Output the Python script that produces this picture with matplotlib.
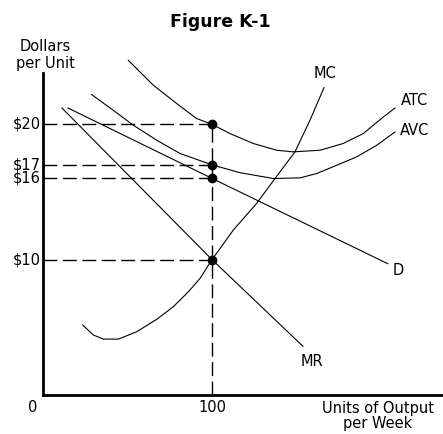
import matplotlib
matplotlib.use('Agg')
from matplotlib import pyplot as plt

# cost and revenue curves (units of output, dollars per unit)
mc_q = [23.5, 29.8, 35.7, 44.6, 55.4, 67.3, 77.1, 86.0, 92.9, 100, 112.6, 126.4, 137.3, 149.1, 158.0, 166.3]
mc_p = [5.17, 4.43, 4.13, 4.13, 4.67, 5.59, 6.52, 7.62, 8.61, 10, 12.18, 14.15, 15.99, 17.96, 20.30, 22.71]

atc_q = [50.5, 65.3, 79.1, 90.9, 100, 110.7, 124.4, 138.3, 148.1, 163.9, 177.7, 189.5, 201.4, 208.3]
atc_p = [24.72, 22.88, 21.53, 20.42, 20, 19.31, 18.58, 18.08, 17.96, 18.08, 18.58, 19.31, 20.54, 21.20]

avc_q = [28.8, 41.6, 53.4, 67.3, 81.1, 100, 116.6, 136.3, 152.1, 162.0, 173.8, 185.6, 197.5, 208.3]
avc_p = [22.19, 21.03, 19.93, 18.82, 17.84, 17, 16.42, 15.99, 16.04, 16.36, 16.97, 17.59, 18.45, 19.43]

d_q = [14.8, 100, 204]
d_p = [21.2, 16, 9.7]

mr_q = [11.2, 100, 153.8]
mr_p = [21.2, 10, 3.6]

# profit-max output and the marked price levels
q_star = 100
levels = [20, 17, 16, 10]
level_labels = ['$20', '$17', '$16', '$10']

W, H = 443, 434
fig = plt.figure(figsize=(W / 100, H / 100), dpi=100)
ax = fig.add_axes([43 / W, 39 / H, 400 / W, 375 / H])
ax.set_xlim(0, 236.7)
ax.set_ylim(0, 27.7)

for s in ['top', 'right']:
    ax.spines[s].set_visible(False)
ax.spines['left'].set_linewidth(2)
ax.spines['bottom'].set_linewidth(2)
ax.spines['left'].set_bounds(0, 23.76)
ax.set_xticks([])
ax.set_yticks([])

lw = 0.8
ax.plot(mc_q, mc_p, color='k', lw=lw)
ax.plot(atc_q, atc_p, color='k', lw=lw)
ax.plot(avc_q, avc_p, color='k', lw=lw)
ax.plot(d_q, d_p, color='k', lw=lw)
ax.plot(mr_q, mr_p, color='k', lw=lw)

# dashed guides
for lv in levels:
    ax.plot([0, q_star], [lv, lv], color='k', lw=1, dashes=(10, 4))
ax.plot([q_star, q_star], [0, max(levels)], color='k', lw=1, dashes=(10, 4))
ax.plot([q_star] * len(levels), levels, 'o', color='k', ms=6)

fs = 10.5
for lv, lb in zip(levels, level_labels):
    ax.text(-1.5, lv, lb, ha='right', va='center', fontsize=fs)

# curve labels
ax.text(166.9, 23.76, 'MC', ha='center', va='center', fontsize=fs)
ax.text(220.1, 21.77, 'ATC', ha='center', va='center', fontsize=fs)
ax.text(220.1, 19.56, 'AVC', ha='center', va='center', fontsize=fs)
ax.text(210, 9.23, 'D', ha='center', va='center', fontsize=fs)
ax.text(159.2, 2.44, 'MR', ha='center', va='center', fontsize=fs)

def fx(x):
    return x / W

def fy(y):
    return 1 - y / H

fig.text(fx(220), fy(22), 'Figure K-1', ha='center', va='center', fontsize=12.5, fontweight='bold')
fig.text(fx(45), fy(55), 'Dollars\nper Unit', ha='center', va='center', fontsize=fs, linespacing=1.1)
fig.text(fx(33), fy(407), '0', ha='center', va='center', fontsize=fs)
fig.text(fx(212), fy(407), '100', ha='center', va='center', fontsize=fs)
fig.text(fx(378), fy(416), 'Units of Output\nper Week', ha='center', va='center', fontsize=fs, linespacing=1.05)

fig.savefig('out.png', dpi=100)
